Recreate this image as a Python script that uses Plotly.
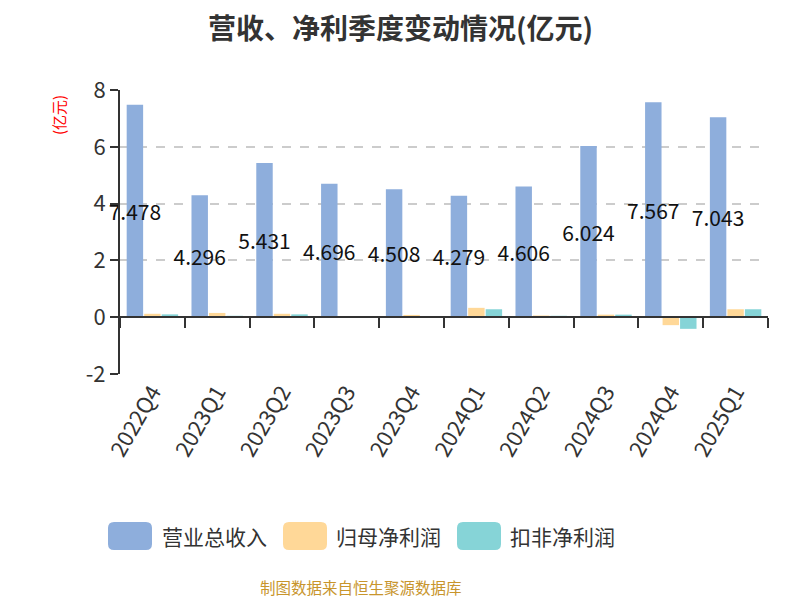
import plotly.graph_objects as go

categories = ["2022Q4", "2023Q1", "2023Q2", "2023Q3", "2023Q4",
              "2024Q1", "2024Q2", "2024Q3", "2024Q4", "2025Q1"]
revenue = [7.478, 4.296, 5.431, 4.696, 4.508, 4.279, 4.606, 6.024, 7.567, 7.043]
net_profit = [0.12, 0.15, 0.12, 0.03, 0.08, 0.33, 0.06, 0.09, -0.28, 0.28]
deducted_profit = [0.10, 0.05, 0.10, 0.02, 0.02, 0.28, 0.05, 0.09, -0.41, 0.28]
series_names = ["营业总收入", "归母净利润", "扣非净利润"]
colors = ["#8eaedc", "#ffd898", "#86d4d7"]
y_range = [-2, 8]
y_ticks = [-2, 0, 2, 4, 6, 8]
y_ticktext = ["-2", "0", "2", "4", "6", "8"]

W, H = 800, 600
OFF = 8  # page body margin
L, R, T, B = 112, 40, 82, 234
PW, PH = W - L - R, H - T - B
FONT = "Noto Sans CJK SC"


def px(x):
    return (x - OFF - L) / PW


def py(y):
    return (H - B - (y - OFF)) / PH


fig = go.Figure()
for name, vals, col in zip(series_names, [revenue, net_profit, deducted_profit], colors):
    show_text = name == "营业总收入"
    fig.add_trace(go.Bar(
        x=categories, y=vals, name=name, marker_color=col,
        marker_line_width=0, cliponaxis=False,
        text=[f"{v:.3f}" for v in vals] if show_text else None,
        textposition="inside" if show_text else "none",
        insidetextanchor="middle", textangle=0,
        insidetextfont=dict(size=21, color="#111111", family=FONT),
        showlegend=False, hoverinfo="x+y+name",
    ))

# helper trace for the zero-line category axis with boundary ticks
fig.add_trace(go.Scatter(x=categories, y=[None] * len(categories), xaxis="x2",
                         mode="none", showlegend=False, hoverinfo="skip"))

zero_pos = (0 - y_range[0]) / (y_range[1] - y_range[0])

fig.update_layout(
    width=W, height=H,
    margin=dict(l=L, r=R, t=T, b=B),
    paper_bgcolor="white", plot_bgcolor="white",
    barmode="group", bargap=0.19, bargroupgap=0.06,
    font=dict(family=FONT, color="#333333"),
    uniformtext=dict(minsize=21, mode="show"),
    xaxis=dict(type="category", categoryorder="array", categoryarray=categories,
               range=[-0.5, len(categories) - 0.5],
               showline=False, ticks="", showgrid=False, zeroline=False,
               tickangle=-60, tickfont=dict(size=22, color="#333333", family=FONT)),
    xaxis2=dict(type="category", categoryorder="array", categoryarray=categories,
                range=[-0.5, len(categories) - 0.5],
                overlaying="x", anchor="free", position=zero_pos, side="bottom",
                showline=True, linecolor="#333333", linewidth=2,
                ticks="outside", ticklen=10, tickwidth=2, tickcolor="#333333",
                tickson="boundaries", showticklabels=False, showgrid=False,
                zeroline=False),
    yaxis=dict(range=y_range, tickvals=y_ticks, ticktext=y_ticktext,
               showline=True, linecolor="#333333", linewidth=2,
               ticks="outside", ticklen=8, tickwidth=2, tickcolor="#333333",
               showgrid=True, gridcolor="#cccccc", griddash="dash", gridwidth=1.5,
               zeroline=False,
               tickfont=dict(size=22, color="#333333", family=FONT)),
)

annotations = [
    dict(text="<b>营收、净利季度变动情况(亿元)</b>", x=px(400), y=py(27),
         xref="paper", yref="paper", xanchor="center", yanchor="middle",
         showarrow=False, font=dict(size=28, color="#333333", family=FONT)),
    dict(text="(亿元)", x=px(58), y=py(115), xref="paper", yref="paper",
         xanchor="center", yanchor="middle",
         textangle=-90, showarrow=False, font=dict(size=15, color="red", family=FONT)),
    dict(text="制图数据来自恒生聚源数据库", x=px(361), y=py(587), xref="paper", yref="paper",
         xanchor="center", yanchor="middle",
         showarrow=False, font=dict(size=15.5, color="#c8952c", family=FONT)),
]

shapes = []
legend_rects = [(108, 152), (283, 327), (457, 501)]
text_x = [160, 334, 508]
y0, y1, r = 522, 550, 6
for (a, b), tx, name, col in zip(legend_rects, text_x, series_names, colors):
    path = (f"M {px(a + r)},{py(y0)} L {px(b - r)},{py(y0)} Q {px(b)},{py(y0)} {px(b)},{py(y0 + r)} "
            f"L {px(b)},{py(y1 - r)} Q {px(b)},{py(y1)} {px(b - r)},{py(y1)} "
            f"L {px(a + r)},{py(y1)} Q {px(a)},{py(y1)} {px(a)},{py(y1 - r)} "
            f"L {px(a)},{py(y0 + r)} Q {px(a)},{py(y0)} {px(a + r)},{py(y0)} Z")
    shapes.append(dict(type="path", path=path, xref="paper", yref="paper",
                       fillcolor=col, line=dict(width=0)))
    annotations.append(dict(text=name, x=px(tx), y=py((y0 + y1) / 2), xref="paper", yref="paper",
                            xanchor="left", yanchor="middle", showarrow=False,
                            font=dict(size=21, color="#333333", family=FONT)))

fig.update_layout(annotations=annotations, shapes=shapes)
fig.write_html("out.html")
